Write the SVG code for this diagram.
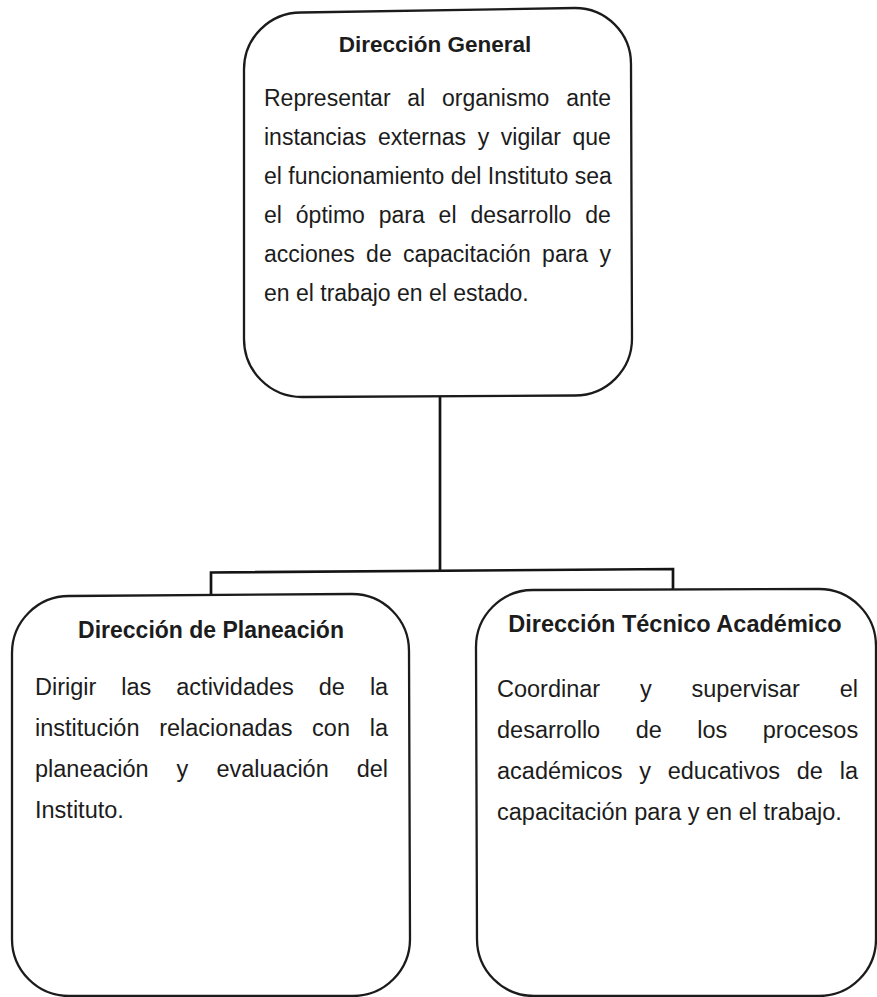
<svg xmlns="http://www.w3.org/2000/svg" width="877" height="997" viewBox="0 0 877 997">
<style>
.box{fill:none;stroke:#1b1b1b;stroke-width:2.3;stroke-linejoin:round}
.con{fill:none;stroke:#141414;stroke-width:2.7;stroke-linejoin:miter}
.t{font-family:"Liberation Sans",Arial,sans-serif;fill:#1c1c1c}
.h{font-weight:bold;text-anchor:middle}
.b23{font-size:23px}
.b235{font-size:23.5px}
</style>
<rect width="877" height="997" fill="#ffffff"/>
<g id="connectors">
<path class="con" d="M440 396 L440 572"/>
<path class="con" d="M211 596 L211 572.5 L673 569 L673 590"/>
</g>
<g id="direccion-general">
<path class="box" d="M301 12.5 L575 8 A56 56 0 0 1 631 64 L632 338 A57 57 0 0 1 575 395.5 L302 397 A58 58 0 0 1 244 339 L244 70 A57 57 0 0 1 301 12.5 Z"/>
<text class="t h" x="435" y="52" font-size="22.5">Dirección General</text>
<text class="t b23">
<tspan x="264" y="106">Representar</tspan><tspan x="407.3" y="106">al</tspan><tspan x="442" y="106">organismo</tspan><tspan x="566.2" y="106">ante</tspan>
<tspan x="264" y="145">instancias</tspan><tspan x="377.9" y="145">externas</tspan><tspan x="477.7" y="145">y</tspan><tspan x="500.8" y="145">vigilar</tspan><tspan x="572.5" y="145">que</tspan>
<tspan x="264" y="184">el funcionamiento del Instituto sea</tspan>
<tspan x="264" y="223">el</tspan><tspan x="295.8" y="223">óptimo</tspan><tspan x="378.7" y="223">para</tspan><tspan x="438.6" y="223">el</tspan><tspan x="470.4" y="223">desarrollo</tspan><tspan x="585.3" y="223">de</tspan>
<tspan x="264" y="262">acciones</tspan><tspan x="366.1" y="262">de</tspan><tspan x="403" y="262">capacitación</tspan><tspan x="542.1" y="262">para</tspan><tspan x="599.4" y="262">y</tspan>
<tspan x="264" y="301">en el trabajo en el estado.</tspan>
</text>
</g>
<g id="direccion-planeacion">
<path class="box" d="M69 596 L352 594 A57 57 0 0 1 409 651 L410 939 A57 57 0 0 1 353 996 L69 996 A57 57 0 0 1 12 939 L12 653 A57 57 0 0 1 69 596 Z"/>
<text class="t h" x="211" y="638" font-size="23">Dirección de Planeación</text>
<text class="t b235">
<tspan x="35" y="695">Dirigir</tspan><tspan x="121.3" y="695">las</tspan><tspan x="176.3" y="695">actividades</tspan><tspan x="318.8" y="695">de</tspan><tspan x="369.9" y="695">la</tspan>
<tspan x="35" y="736">institución</tspan><tspan x="159.2" y="736">relacionadas</tspan><tspan x="312.1" y="736">con</tspan><tspan x="369.7" y="736">la</tspan>
<tspan x="35" y="777">planeación</tspan><tspan x="176.6" y="777">y</tspan><tspan x="216.4" y="777">evaluación</tspan><tspan x="356.7" y="777">del</tspan>
<tspan x="35" y="818">Instituto.</tspan>
</text>
</g>
<g id="direccion-tecnico-academico">
<path class="box" d="M533 590 L819 589 A57 57 0 0 1 876 646 L876 939 A57 57 0 0 1 819 996 L534 996 A57 57 0 0 1 477 939 L476 647 A57 57 0 0 1 533 590 Z"/>
<text class="t h" x="675" y="632" font-size="23.5">Dirección Técnico Académico</text>
<text class="t b235">
<tspan x="497" y="697">Coordinar</tspan><tspan x="640" y="697">y</tspan><tspan x="691.5" y="697">supervisar</tspan><tspan x="839.7" y="697">el</tspan>
<tspan x="497" y="738">desarrollo</tspan><tspan x="635.7" y="738">de</tspan><tspan x="697.3" y="738">los</tspan><tspan x="762.8" y="738">procesos</tspan>
<tspan x="497" y="779">académicos</tspan><tspan x="639.2" y="779">y</tspan><tspan x="667.7" y="779">educativos</tspan><tspan x="796.8" y="779">de</tspan><tspan x="839.7" y="779">la</tspan>
<tspan x="497" y="820">capacitación para y en el trabajo.</tspan>
</text>
</g>
</svg>
